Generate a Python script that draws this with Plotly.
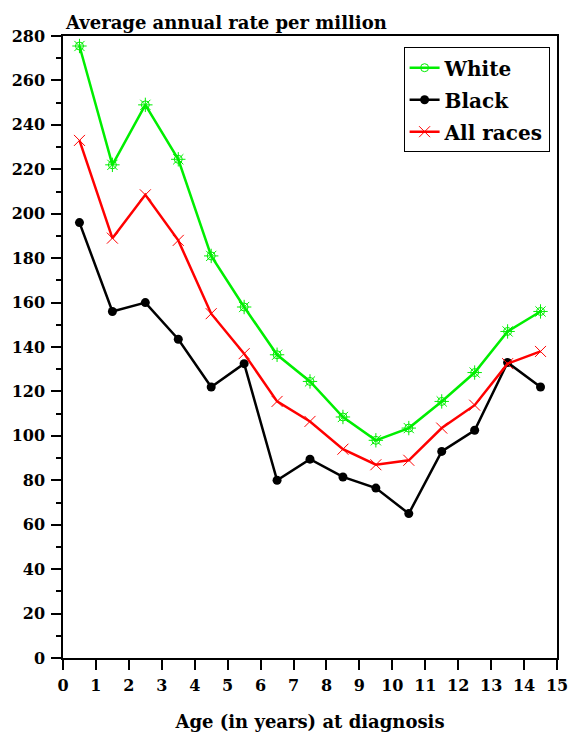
import plotly.graph_objects as go

ages = [0.5, 1.5, 2.5, 3.5, 4.5, 5.5, 6.5, 7.5, 8.5, 9.5, 10.5, 11.5, 12.5, 13.5, 14.5]
white = [275.5, 222, 249, 224.5, 181, 158, 136.5, 124.5, 108.5, 98, 103.5, 115.5, 128.5, 147, 156]
black = [196, 156, 160, 143.5, 122, 132.5, 80, 89.5, 81.5, 76.5, 65, 93, 102.5, 133, 122]
all_races = [233, 189, 208.5, 188, 155, 137, 115.5, 106.5, 94, 87, 89, 103.5, 113.8, 132.5, 138]
x_ticks = list(range(0, 16))
y_ticks = list(range(0, 281, 20))

FONT = "DejaVu Serif"
GREEN = "#00ee00"

fig = go.Figure()
fig.add_trace(go.Scatter(
    x=ages, y=white, name="<b>White</b>", mode="lines+markers", legendgroup="w",
    line=dict(color=GREEN, width=2.5),
    marker=dict(symbol="circle-open", size=8, color=GREEN, line=dict(width=1, color=GREEN))))
fig.add_trace(go.Scatter(
    x=ages, y=white, mode="markers", showlegend=False, legendgroup="w", hoverinfo="skip",
    marker=dict(symbol="asterisk-open", size=12, color=GREEN, line=dict(width=1, color="#66ff66"))))
fig.add_trace(go.Scatter(
    x=ages, y=black, name="<b>Black</b>", mode="lines+markers", legendgroup="b",
    line=dict(color="black", width=2.5),
    marker=dict(symbol="circle", size=9, color="black")))
fig.add_trace(go.Scatter(
    x=ages, y=all_races, name="<b>All races</b>", mode="lines+markers", legendgroup="a",
    line=dict(color="#ff0000", width=2.5),
    marker=dict(symbol="x-thin-open", size=11, color="#ff0000", line=dict(width=1, color="#ff5555"))))

axis_common = dict(
    showline=True, linecolor="black", linewidth=1.5, mirror=True, automargin=False,
    showgrid=False, zeroline=False, ticks="outside", ticklen=10, tickwidth=1.5, tickcolor="black",
    tickfont=dict(family=FONT, size=16, color="black", weight="bold"),
)

fig.update_xaxes(range=[0, 15], tickvals=x_ticks, ticktext=[str(v) for v in x_ticks],
                 title=dict(text="<b>Age (in years) at diagnosis</b>", font=dict(family=FONT, size=18, color="black"), standoff=22),
                 ticklabelstandoff=2, ticklabeloverflow="allow", **axis_common)
fig.update_yaxes(range=[0, 280], tickvals=y_ticks, ticktext=[str(v) for v in y_ticks],
                 minor=dict(dtick=10, ticks="outside", ticklen=5, tickcolor="black", tickwidth=1.5),
                 ticklabelstandoff=3, **axis_common)

fig.add_annotation(text="<b>Average annual rate per million</b>", xref="paper", yref="paper",
                   x=0, y=1, xanchor="left", yanchor="bottom", yshift=1, showarrow=False,
                   font=dict(family=FONT, size=18, color="black"))

fig.update_layout(
    width=570, height=732,
    margin=dict(l=63, r=13, t=36, b=74),
    paper_bgcolor="white", plot_bgcolor="white",
    legend=dict(x=0.985, y=0.982, xanchor="right", yanchor="top",
                bordercolor="black", borderwidth=1, bgcolor="white",
                font=dict(family=FONT, size=20, color="black"),
                traceorder="grouped", tracegroupgap=3, itemwidth=30),
)

fig.write_html("out.html", config={"displayModeBar": False},
               post_script="document.body.style.margin='0';document.body.style.overflow='hidden';")
